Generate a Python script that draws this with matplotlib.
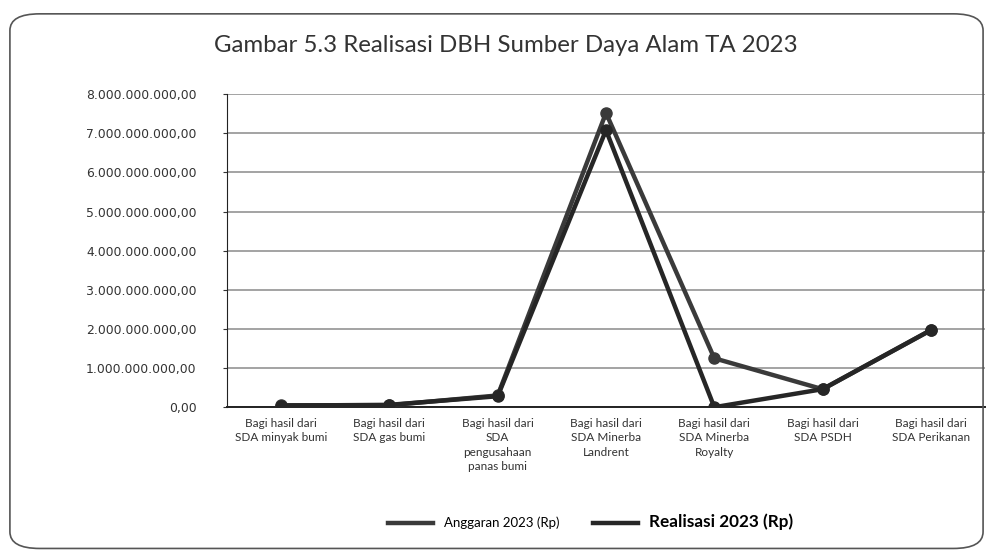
import matplotlib
matplotlib.use("Agg")
import matplotlib.pyplot as plt
from matplotlib.patches import FancyBboxPatch
from matplotlib.ticker import FuncFormatter

kategori = [
    "Bagi hasil dari\nSDA minyak bumi",
    "Bagi hasil dari\nSDA gas bumi",
    "Bagi hasil dari\nSDA\npengusahaan\npanas bumi",
    "Bagi hasil dari\nSDA Minerba\nLandrent",
    "Bagi hasil dari\nSDA Minerba\nRoyalty",
    "Bagi hasil dari\nSDA PSDH",
    "Bagi hasil dari\nSDA Perikanan",
]
anggaran = [0.05e9, 0.05e9, 0.30e9, 7.52e9, 1.25e9, 0.46e9, 1.97e9]
realisasi = [0.04e9, 0.06e9, 0.28e9, 7.08e9, 0.0, 0.46e9, 1.97e9]
yticks = [i * 1e9 for i in range(9)]


def rupiah(v, pos):
    if v == 0:
        return "0,00"
    s = "{:,.0f}".format(v).replace(",", ".")
    return s + ",00"


fig = plt.figure(figsize=(9.91, 5.54), dpi=100)
plt.rcParams['font.family'] = ['Lato', 'DejaVu Sans']

# rounded border around the chart
box = FancyBboxPatch((0.010, 0.010), 0.982, 0.965,
                     boxstyle="round,pad=0,rounding_size=0.03",
                     transform=fig.transFigure, fill=False,
                     edgecolor="#555555", linewidth=1.2)
fig.patches.append(box)

ax = fig.add_axes([0.229, 0.265, 0.765, 0.565])
x = list(range(len(kategori)))
ax.plot(x, anggaran, color="#3a3a3a", linewidth=3.2, marker="o",
        markersize=8, label="Anggaran 2023 (Rp)", zorder=3)
ax.plot(x, realisasi, color="#262626", linewidth=3.2, marker="o",
        markersize=8, label="Realisasi 2023 (Rp)", zorder=4)

ax.set_xlim(-0.5, len(kategori) - 0.5)
ax.set_ylim(0, 8e9)
ax.set_yticks(yticks)
ax.yaxis.set_major_formatter(FuncFormatter(rupiah))
ax.set_xticks(x)
ax.set_xticklabels(kategori, fontsize=8.5, color="#333333", linespacing=1.35)
for t in ax.get_yticklabels():
    t.set_family(['DejaVu Sans'])
ax.tick_params(axis="y", labelsize=8.9, colors="#333333", length=3, pad=19)
ax.tick_params(axis="x", length=0, pad=8)
ax.grid(axis="y", color="#8a8a8a", linewidth=1.1)
ax.set_axisbelow(True)
for s in ["top", "right"]:
    ax.spines[s].set_visible(False)
ax.spines["left"].set_color("#222222")
ax.spines["bottom"].set_color("#222222")
ax.spines["bottom"].set_linewidth(1.4)

fig.text(0.51, 0.918, "Gambar 5.3 Realisasi DBH Sumber Daya Alam TA 2023",
         ha="center", va="center", fontsize=17.3, color="#333333")

leg = fig.legend(loc="center", bbox_to_anchor=(0.596, 0.058), ncol=2,
                 frameon=False, fontsize=9.5, handlelength=3.4,
                 columnspacing=2.6, markerscale=0)
leg.get_texts()[1].set_fontsize(12.3)
leg.get_texts()[1].set_fontweight("bold")

plt.savefig("out.png", dpi=100)
